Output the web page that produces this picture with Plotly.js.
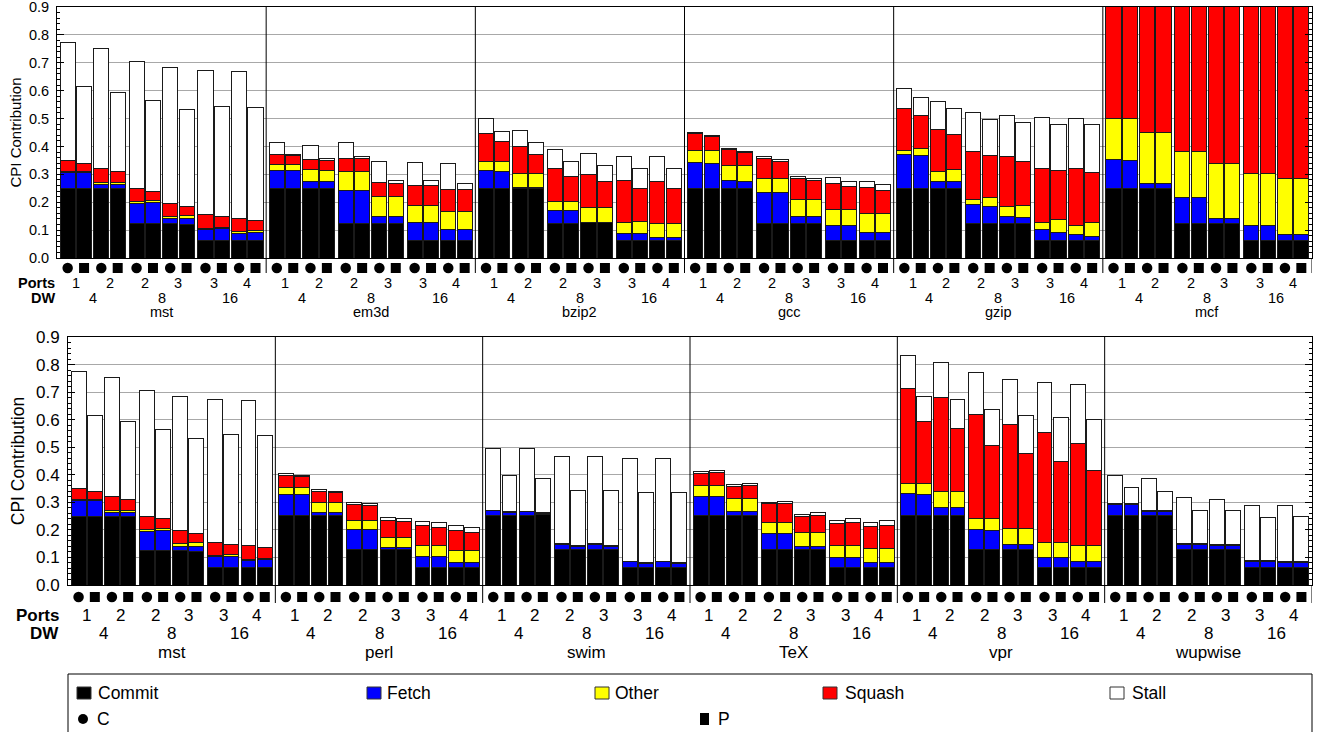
<!DOCTYPE html>
<html>
<head>
<meta charset="utf-8">
<script src="https://cdn.plot.ly/plotly-3.0.1.min.js"></script>
<style>
html,body{margin:0;padding:0;background:#fff;}
#chart{width:1321px;height:732px;}
</style>
</head>
<body>
<div id="chart"></div>
<script>
// ---------------- DATA ----------------
const topBenchmarks = ['mst', 'em3d', 'bzip2', 'gcc', 'gzip', 'mcf'];
const bottomBenchmarks = ['mst', 'perl', 'swim', 'TeX', 'vpr', 'wupwise'];
const portLabels = ['1', '2', '2', '3', '3', '4'];
const dwLabels = ['4', '8', '16'];
const variants = ['C', 'P'];
const componentNames = ['Commit', 'Fetch', 'Other', 'Squash', 'Stall'];
const componentColors = ['#000000', '#0000ff', '#ffff00', '#ff0000', '#ffffff'];

// each array: 12 bars = 6 configs (DW4 P1, DW4 P2, DW8 P2, DW8 P3, DW16 P3, DW16 P4) x (C, P)
const mst = {
  commit: [.248, .248, .248, .248, .124, .124, .124, .121, .063, .063, .063, .063],
  fetch:  [.057, .057, .016, .016, .071, .074, .017, .020, .040, .042, .025, .028],
  other:  [.004, .004, .008, .008, .007, .007, .009, .012, .004, .005, .006, .007],
  squash: [.041, .031, .048, .037, .046, .035, .047, .033, .048, .038, .048, .038],
  stall:  [.424, .276, .432, .285, .457, .324, .487, .346, .518, .397, .527, .405]
};
const em3d = {
  commit: [.248, .248, .248, .248, .124, .122, .124, .124, .063, .063, .063, .063],
  fetch:  [.066, .066, .026, .026, .117, .119, .024, .024, .063, .063, .038, .038],
  other:  [.021, .020, .042, .041, .068, .068, .072, .072, .063, .063, .065, .065],
  squash: [.036, .034, .036, .035, .048, .047, .050, .047, .072, .071, .081, .081],
  stall:  [.044, .002, .053, .006, .058, .009, .076, .012, .081, .019, .091, .021]
};
const bzip2 = {
  commit: [.248, .248, .250, .250, .124, .124, .127, .127, .063, .063, .063, .063],
  fetch:  [.066, .063, .002, .002, .047, .047, .002, .002, .026, .026, .011, .011],
  other:  [.031, .034, .050, .050, .032, .032, .051, .051, .040, .041, .051, .051],
  squash: [.102, .073, .098, .070, .117, .089, .120, .093, .148, .121, .149, .126],
  stall:  [.052, .034, .057, .041, .070, .055, .075, .060, .086, .069, .089, .070]
};
const gcc = {
  commit: [.248, .248, .248, .248, .124, .124, .124, .122, .063, .063, .063, .063],
  fetch:  [.094, .091, .029, .026, .110, .110, .026, .028, .054, .054, .029, .029],
  other:  [.045, .048, .056, .059, .050, .050, .060, .060, .058, .058, .066, .066],
  squash: [.058, .050, .055, .045, .074, .062, .075, .067, .092, .083, .095, .084],
  stall:  [.004, .002, .003, .003, .005, .006, .009, .007, .021, .018, .020, .021]
};
const gzip = {
  commit: [.248, .248, .248, .248, .124, .124, .124, .122, .063, .063, .063, .063],
  fetch:  [.123, .120, .026, .026, .067, .061, .024, .022, .038, .029, .021, .015],
  other:  [.016, .026, .035, .042, .018, .031, .035, .046, .025, .045, .033, .048],
  squash: [.148, .118, .153, .128, .172, .152, .180, .157, .196, .176, .203, .182],
  stall:  [.072, .062, .100, .091, .142, .128, .148, .140, .182, .167, .182, .171]
};
const mcf = {
  commit: [.248, .248, .248, .248, .124, .124, .124, .124, .063, .063, .063, .063],
  fetch:  [.104, .103, .019, .019, .092, .092, .017, .017, .052, .052, .023, .023],
  other:  [.150, .151, .182, .182, .166, .167, .197, .197, .187, .188, .198, .198],
  squash: [.500, .450, .550, .500, .600, .550, .650, .600, .700, .650, .700, .650],
  stall:  [.100, .080, .100, .080, .100, .080, .100, .080, .100, .080, .100, .080]
};
const perl = {
  commit: [.252, .252, .252, .252, .128, .128, .128, .128, .065, .065, .065, .065],
  fetch:  [.075, .075, .012, .012, .072, .072, .008, .008, .039, .039, .017, .017],
  other:  [.026, .026, .034, .034, .034, .034, .038, .038, .040, .040, .043, .043],
  squash: [.046, .040, .042, .036, .059, .056, .059, .055, .072, .066, .073, .067],
  stall:  [.004, .005, .007, .007, .007, .007, .012, .012, .016, .016, .018, .017]
};
const swim = {
  commit: [.252, .252, .252, .256, .128, .128, .128, .128, .065, .065, .065, .065],
  fetch:  [.018, .012, .013, .005, .019, .012, .019, .012, .019, .013, .019, .013],
  other:  [.000, .000, .000, .000, .000, .000, .000, .000, .000, .000, .000, .000],
  squash: [.002, .002, .002, .001, .002, .002, .002, .002, .002, .002, .002, .002],
  stall:  [.225, .133, .229, .126, .318, .202, .318, .202, .374, .257, .374, .257]
};
const TeX = {
  commit: [.252, .252, .252, .252, .128, .128, .128, .128, .065, .065, .065, .065],
  fetch:  [.069, .069, .015, .015, .060, .060, .011, .011, .036, .036, .017, .017],
  other:  [.040, .040, .047, .047, .039, .039, .052, .052, .043, .043, .051, .051],
  squash: [.044, .047, .045, .048, .067, .067, .059, .061, .080, .083, .081, .084],
  stall:  [.008, .007, .005, .006, .005, .009, .007, .011, .010, .013, .012, .016]
};
const vpr = {
  commit: [.252, .252, .252, .252, .128, .128, .128, .128, .065, .065, .065, .065],
  fetch:  [.081, .075, .031, .029, .072, .070, .018, .018, .036, .035, .021, .021],
  other:  [.036, .041, .055, .057, .040, .042, .059, .059, .055, .053, .056, .056],
  squash: [.343, .224, .344, .229, .379, .268, .378, .273, .398, .297, .373, .273],
  stall:  [.120, .092, .127, .105, .154, .128, .164, .138, .181, .157, .212, .187]
};
const wupwise = {
  commit: [.252, .252, .252, .252, .128, .128, .128, .128, .065, .065, .065, .065],
  fetch:  [.041, .041, .015, .015, .020, .020, .016, .016, .021, .021, .018, .018],
  other:  [.000, .000, .000, .000, .000, .000, .000, .000, .000, .000, .000, .000],
  squash: [.002, .002, .002, .002, .002, .002, .002, .002, .002, .002, .002, .002],
  stall:  [.104, .060, .117, .070, .167, .121, .166, .124, .202, .157, .205, .164]
};
const benchData = {mst, em3d, bzip2, gcc, gzip, mcf, perl, swim, TeX, vpr, wupwise};
const componentKeys = ['commit', 'fetch', 'other', 'squash', 'stall'];

// ---------------- GEOMETRY ----------------
const W = 12.75; // panel width in x units
function center(c, v) { return 0.15 + 0.5 + 2.05 * c + v + 0.1 * Math.floor(c / 2); }
const FW = 1321, FH = 732;
const px = x => x / FW;
const py = y => 1 - y / FH;

const rows = [
  {benches: topBenchmarks, xa: 'x', ya: 'y', ym: 'y3', xref: 'x',
   plotTop: 7, plotBot: 258, left: 57, markY: 268, divBot: 273,
   portsY: 283, dwY: 298, nameY: 312, fs: 14.5, labelRight: 57, titleStandoff: 3},
  {benches: bottomBenchmarks, xa: 'x2', ya: 'y2', ym: 'y4', xref: 'x2',
   plotTop: 337, plotBot: 585, left: 68, markY: 597, divBot: 603,
   portsY: 615, dwY: 633, nameY: 652, fs: 17, labelRight: 61, titleStandoff: 6}
];

const traces = [];
const annotations = [];
const shapes = [];

rows.forEach((row, ri) => {
  // bars
  componentKeys.forEach((key, k) => {
    const xs = [], ys = [];
    row.benches.forEach((b, bi) => {
      const d = benchData[b][key];
      for (let c = 0; c < 6; c++) for (let v = 0; v < 2; v++) {
        xs.push(bi * W + center(c, v));
        ys.push(d[c * 2 + v]);
      }
    });
    traces.push({
      type: 'bar', x: xs, y: ys, xaxis: row.xa, yaxis: row.ya,
      name: componentNames[k], width: 0.92, showlegend: false,
      marker: {color: componentColors[k], line: {color: '#1a1a1a', width: 1}},
      hoverinfo: 'skip'
    });
  });
  // C / P markers
  variants.forEach((vn, v) => {
    const xs = [], ys = [];
    row.benches.forEach((b, bi) => {
      for (let c = 0; c < 6; c++) { xs.push(bi * W + center(c, v)); ys.push(0.5); }
    });
    traces.push({
      type: 'scatter', mode: 'markers', x: xs, y: ys, xaxis: row.xa, yaxis: row.ym,
      name: vn, showlegend: false, hoverinfo: 'skip', cliponaxis: false,
      marker: {symbol: vn === 'C' ? 'circle' : 'square', size: vn === 'C' ? 10.5 : 10, color: '#000'}
    });
  });
  // labels
  row.benches.forEach((b, bi) => {
    for (let c = 0; c < 6; c++) {
      annotations.push({xref: row.xref, yref: 'paper', x: bi * W + (center(c, 0) + center(c, 1)) / 2,
        y: py(row.portsY), text: portLabels[c], showarrow: false, font: {size: row.fs},
        xanchor: 'center', yanchor: 'middle'});
    }
    for (let g = 0; g < 3; g++) {
      annotations.push({xref: row.xref, yref: 'paper', x: bi * W + (center(2 * g, 0) + center(2 * g + 1, 1)) / 2,
        y: py(row.dwY), text: dwLabels[g], showarrow: false, font: {size: row.fs},
        xanchor: 'center', yanchor: 'middle'});
    }
    annotations.push({xref: row.xref, yref: 'paper', x: bi * W + W / 2,
      y: py(row.nameY), text: b, showarrow: false, font: {size: row.fs},
      xanchor: 'center', yanchor: 'middle'});
    // divider lines
    if (bi > 0) {
      shapes.push({type: 'line', xref: row.xref, yref: 'paper', x0: bi * W, x1: bi * W,
        y0: py(row.divBot), y1: py(row.plotTop), line: {color: '#000', width: 1}});
    }
  });
  shapes.push({type: 'line', xref: row.xref, yref: 'paper', x0: 6 * W, x1: 6 * W,
    y0: py(row.divBot), y1: py(row.plotBot), line: {color: '#000', width: 1}});
  annotations.push({xref: 'paper', yref: 'paper', x: px(row.labelRight), y: py(row.portsY),
    text: '<b>Ports</b>', showarrow: false, font: {size: row.fs}, xanchor: 'right', yanchor: 'middle'});
  annotations.push({xref: 'paper', yref: 'paper', x: px(row.labelRight), y: py(row.dwY),
    text: '<b>DW</b>', showarrow: false, font: {size: row.fs}, xanchor: 'right', yanchor: 'middle'});
});

// manual legend
shapes.push({type: 'rect', xref: 'paper', yref: 'paper', x0: px(68), x1: px(1312), y0: py(760), y1: py(674),
  line: {color: '#000', width: 1}, fillcolor: 'rgba(0,0,0,0)'});
const legendSq = [77, 367, 595, 823, 1110];
const legendTxt = [96, 385, 613, 843, 1130];
componentNames.forEach((n, k) => {
  shapes.push({type: 'rect', xref: 'paper', yref: 'paper', x0: px(legendSq[k]), x1: px(legendSq[k] + 14),
    y0: py(699), y1: py(687), fillcolor: componentColors[k], line: {color: '#333', width: 1}});
  annotations.push({xref: 'paper', yref: 'paper', x: px(legendTxt[k]), y: py(693), text: n,
    showarrow: false, font: {size: 17.5}, xanchor: 'left', yanchor: 'middle'});
});
shapes.push({type: 'circle', xref: 'paper', yref: 'paper', x0: px(78), x1: px(88), y0: py(724), y1: py(714),
  fillcolor: '#000', line: {color: '#000', width: 0}});
annotations.push({xref: 'paper', yref: 'paper', x: px(95), y: py(719), text: 'C',
  showarrow: false, font: {size: 17.5}, xanchor: 'left', yanchor: 'middle'});
shapes.push({type: 'rect', xref: 'paper', yref: 'paper', x0: px(700), x1: px(709), y0: py(725), y1: py(713),
  fillcolor: '#000', line: {color: '#000', width: 0}});
annotations.push({xref: 'paper', yref: 'paper', x: px(716), y: py(719), text: 'P',
  showarrow: false, font: {size: 17.5}, xanchor: 'left', yanchor: 'middle'});

function yAxis(row, anchor) {
  return {
    domain: [py(row.plotBot), py(row.plotTop)], range: [0, 0.9], anchor: anchor,
    dtick: 0.1, tick0: 0, tickformat: '.1f', ticks: 'inside', ticklen: 7, tickwidth: 1, tickcolor: '#000',
    showline: true, linecolor: '#000', linewidth: 1, mirror: 'ticks',
    showgrid: true, gridcolor: '#a8a8a8', gridwidth: 1, zeroline: false,
    minor: {dtick: 0.02, ticks: 'inside', ticklen: 3, tickcolor: '#000', showgrid: false},
    tickfont: {size: row.fs}, ticklabelstandoff: 4, ticklabeloverflow: 'allow',
    title: {text: 'CPI Contribution', font: {size: row.fs + 0.5}, standoff: row.titleStandoff},
    fixedrange: true
  };
}
function xAxis(row, anchor) {
  return {
    domain: [px(row.left), px(1312)], range: [0, 6 * W], anchor: anchor,
    showticklabels: false, ticks: '', showgrid: false, zeroline: false,
    showline: true, linecolor: '#000', linewidth: 1, mirror: true, fixedrange: true
  };
}
function markAxis(row, anchor) {
  return {domain: [py(row.markY + 9), py(row.markY - 9)], range: [0, 1], anchor: anchor,
    visible: false, fixedrange: true};
}

const layout = {
  width: FW, height: FH,
  margin: {l: 0, r: 0, t: 0, b: 0, pad: 0},
  paper_bgcolor: '#fff', plot_bgcolor: '#fff',
  font: {family: '"Liberation Sans", Arial, Helvetica, sans-serif', color: '#000', size: 15},
  barmode: 'stack', bargap: 0,
  showlegend: false,
  xaxis: xAxis(rows[0], 'y'),
  yaxis: yAxis(rows[0], 'x'),
  xaxis2: xAxis(rows[1], 'y2'),
  yaxis2: yAxis(rows[1], 'x2'),
  yaxis3: markAxis(rows[0], 'x'),
  yaxis4: markAxis(rows[1], 'x2'),
  annotations: annotations,
  shapes: shapes
};

Plotly.newPlot('chart', traces, layout, {displayModeBar: false, staticPlot: true});
</script>
</body>
</html>
